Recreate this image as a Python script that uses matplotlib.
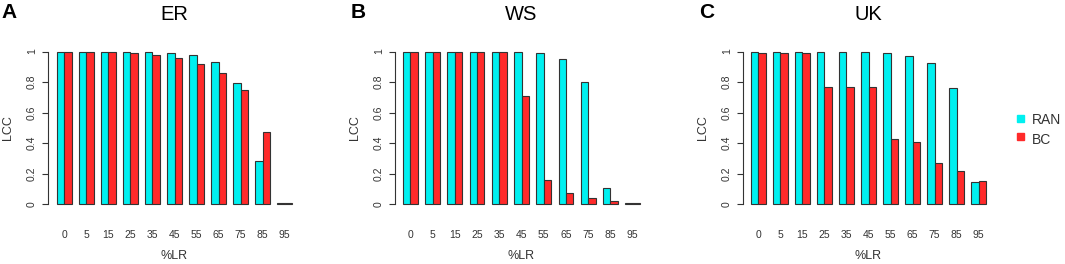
import numpy as np
import matplotlib
matplotlib.use("Agg")
import matplotlib.pyplot as plt
from matplotlib.patches import Rectangle

plt.rcParams["font.family"] = ["Liberation Sans", "DejaVu Sans"]

# dados
lr = ["0", "5", "15", "25", "35", "45", "55", "65", "75", "85", "95"]

er_ran = [1, 1, 1, 1, 0.995, 0.99, 0.975, 0.93, 0.795, 0.285, 0.01]
er_bc = [1, 1, 0.995, 0.99, 0.98, 0.96, 0.92, 0.86, 0.745, 0.47, 0.01]

ws_ran = [1, 1, 1, 1, 1, 1, 0.99, 0.95, 0.80, 0.105, 0.01]
ws_bc = [1, 1, 1, 1, 0.995, 0.71, 0.16, 0.075, 0.04, 0.02, 0.01]

uk_ran = [1, 1, 1, 1, 0.995, 0.995, 0.99, 0.97, 0.925, 0.76, 0.145]
uk_bc = [0.99, 0.99, 0.99, 0.77, 0.77, 0.77, 0.43, 0.41, 0.27, 0.22, 0.15]

cor_ran = "#00F0F0"
cor_bc = "#FF2A2A"
borda = "#333333"

W, H = 1065, 264
fig = plt.figure(figsize=(W / 100, H / 100), dpi=100)

# (letra, titulo, ran, bc, eixo_px, inicio_barras_px, fim_barras_px)
paineis = [
    ("A", "ER", er_ran, er_bc, 48, 57, 292),
    ("B", "WS", ws_ran, ws_bc, 395, 403, 640),
    ("C", "UK", uk_ran, uk_bc, 743, 751, 986),
]

y0_px, y1_px = 217, 52
ymin, ymax = -0.04, 1.04
esc_y = (y0_px - y1_px)
bottom_px = y0_px - (0 - ymin) * esc_y
top_px = y1_px - (ymax - 1) * esc_y

for letra, titulo, ran, bc, eixo, ini, fim in paineis:
    esc = (fim - ini) / 32.0
    xleft = 1 - (ini - eixo) / esc
    xright = 34
    largura = (xright - xleft) * esc
    ax = fig.add_axes([eixo / W, 1 - bottom_px / H, largura / W, (bottom_px - top_px) / H])

    pos = np.arange(len(lr)) * 3
    ax.bar(pos + 1, ran, width=1, align="edge", color=cor_ran, edgecolor=borda, linewidth=0.8)
    ax.bar(pos + 2, bc, width=1, align="edge", color=cor_bc, edgecolor=borda, linewidth=0.8)

    for s in ["top", "right", "bottom"]:
        ax.spines[s].set_visible(False)
    ax.spines["left"].set_bounds(0, 1)
    ax.spines["left"].set_color(borda)
    ax.spines["left"].set_linewidth(0.8)

    ax.set_yticks([0, 0.2, 0.4, 0.6, 0.8, 1])
    ax.set_yticklabels(["0", "0.2", "0.4", "0.6", "0.8", "1"], rotation=90, va="center",
                       fontsize=7.5, color="#333333")
    ax.tick_params(axis="y", length=4, width=0.8, color=borda, pad=4)

    ax.set_xticks(pos + 2)
    ax.set_xticklabels(lr, fontsize=7.5, color="#333333")
    ax.tick_params(axis="x", length=0, pad=14)
    ax.set_xlim(xleft, xright)
    ax.set_ylim(ymin, ymax)

    ax.set_xlabel("%LR", fontsize=9, color="#333333", labelpad=7)
    ax.set_ylabel("LCC", fontsize=9, color="#333333", labelpad=9)

    centro = ((ini + fim) / 2) / W
    fig.text(centro, 1 - 14 / H, titulo, ha="center", va="center", fontsize=14.5)
    fig.text((eixo - 48 + 1) / W if letra == "A" else (eixo - 52 + 8) / W, 1 - 12 / H, letra,
             ha="left", va="center", fontsize=15, fontweight="bold")

# legenda
fig.patches.append(Rectangle((1017 / W, 1 - 122 / H), 7 / W, 7 / H, transform=fig.transFigure,
                             color=cor_ran, figure=fig))
fig.patches.append(Rectangle((1017 / W, 1 - 140 / H), 7 / W, 7 / H, transform=fig.transFigure,
                             color=cor_bc, figure=fig))
fig.text(1032 / W, 1 - 120 / H, "RAN", ha="left", va="center", fontsize=10, color="#333333")
fig.text(1032 / W, 1 - 140 / H, "BC", ha="left", va="center", fontsize=10, color="#333333")

fig.savefig("out.png", dpi=100)
